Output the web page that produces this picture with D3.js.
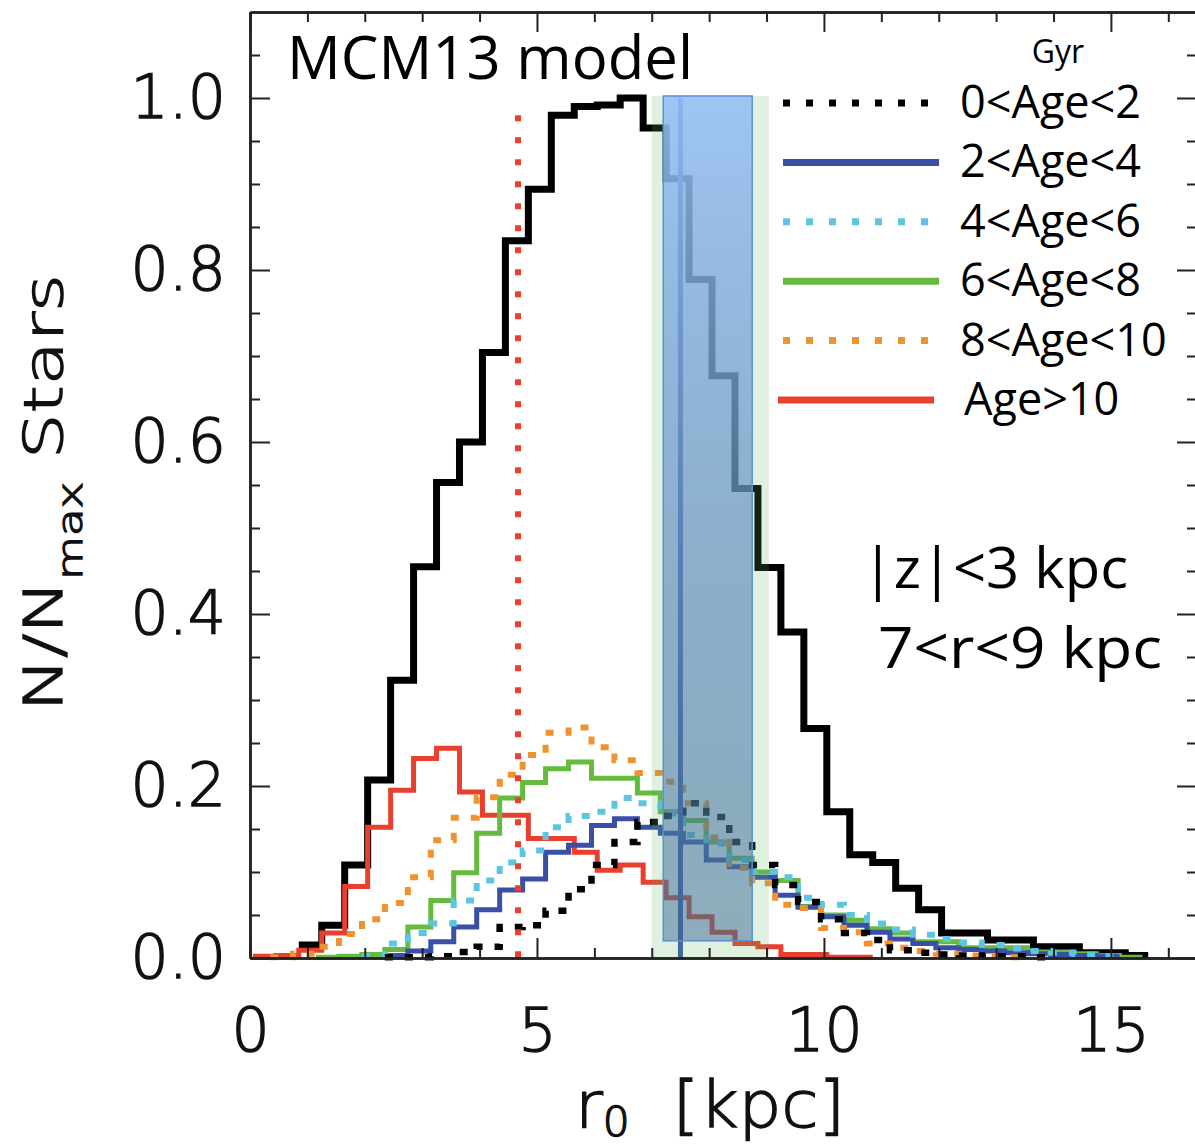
<!DOCTYPE html>
<html>
<head>
<meta charset="utf-8">
<script src="https://cdn.jsdelivr.net/npm/d3@7"></script>
<style>
  body { margin: 0; background: #fff; }
  svg { display: block; }
</style>
</head>
<body>
<div id="chart"></div>
<script>
const width = 1195;
const height = 1148;

// histogram bins are 0.4 kpc wide; each series gives the left edge of its first bin
const binWidth = 0.4;

// all stars (black, thick solid)
const allStart = 0.85;
const allStars = [0.015, 0.038, 0.108, 0.207, 0.323, 0.455, 0.553, 0.6, 0.704, 0.834, 0.894, 0.98, 0.99, 0.992, 1.0,
	0.965, 0.906, 0.789, 0.677, 0.546, 0.454, 0.379, 0.267, 0.17, 0.12, 0.111, 0.081, 0.056, 0.029, 0.029, 0.021, 0.021,
	0.013, 0.013, 0.006, 0.006, 0.003];

// age groups (Gyr)
const age0to2Start = 2.35;
const age0to2 = [0.001, 0.001, 0.002, 0.007, 0.013, 0.036, 0.038, 0.055, 0.08, 0.108, 0.135, 0.158, 0.165, 0.18, 0.164,
	0.135, 0.108, 0.085, 0.065, 0.045, 0.029, 0.021, 0.009, 0.006, 0.004, 0.003, 0.002, 0.002, 0.001];

const age2to4Start = 2.35;
const age2to4 = [0.003, 0.008, 0.019, 0.036, 0.056, 0.079, 0.092, 0.123, 0.131, 0.154, 0.162, 0.152, 0.145, 0.135,
	0.114, 0.106, 0.094, 0.073, 0.059, 0.048, 0.038, 0.03, 0.022, 0.017, 0.012, 0.01, 0.008, 0.006, 0.005, 0.004, 0.003,
	0.002];

const age4to6Start = 1.95;
const age4to6 = [0.002, 0.017, 0.029, 0.04, 0.067, 0.09, 0.111, 0.125, 0.152, 0.165, 0.17, 0.186, 0.18, 0.168, 0.143,
	0.133, 0.114, 0.1, 0.094, 0.07, 0.062, 0.05, 0.04, 0.033, 0.027, 0.022, 0.018, 0.015, 0.011, 0.008, 0.006, 0.004,
	0.002];

const age6to8Start = 1.15;
const age6to8 = [0.001, 0.002, 0.004, 0.01, 0.036, 0.067, 0.099, 0.145, 0.186, 0.204, 0.22, 0.228, 0.209, 0.209, 0.192,
	0.17, 0.16, 0.135, 0.116, 0.1, 0.09, 0.06, 0.05, 0.044, 0.034, 0.029, 0.019, 0.019, 0.012, 0.012, 0.012, 0.007, 0.007,
	0.005, 0.003, 0.001];

const age8to10Start = 0.35;
const age8to10 = [0.001, 0.005, 0.013, 0.028, 0.045, 0.064, 0.094, 0.137, 0.163, 0.187, 0.213, 0.236, 0.262, 0.268,
	0.245, 0.23, 0.215, 0.205, 0.18, 0.14, 0.105, 0.087, 0.062, 0.058, 0.035, 0.03, 0.017, 0.012, 0.008, 0.005, 0.003,
	0.002, 0.001];

const ageOver10Start = 0.05;
const ageOver10 = [0.002, 0.003, 0.009, 0.029, 0.083, 0.152, 0.195, 0.232, 0.244, 0.193, 0.166, 0.166, 0.139, 0.139,
	0.123, 0.102, 0.108, 0.088, 0.07, 0.048, 0.03, 0.017, 0.013, 0.004, 0.004, 0.001, 0.001];

// legend
const legendLabels = ['0<Age<2', '2<Age<4', '4<Age<6', '6<Age<8', '8<Age<10', 'Age>10'];
const legendColors = ['#000000', '#3a4fa6', '#5cc6e0', '#66bb3f', '#f0922e', '#e8402f'];
const legendDotted = [true, false, true, false, true, false];

// marked regions (kpc)
const sunBand = [7.0, 9.04];
const boxRange = [7.2, 8.75];
const boxHeight = [0.02, 1.0];
const sunLine = 7.5;
const redLine = 4.67;

// axis ticks
const xMajor = [0, 5, 10, 15];
const yMajor = [0, 0.2, 0.4, 0.6, 0.8, 1.0];

const svg = d3.select('#chart').append('svg').attr('width', width).attr('height', height);

const x = d3.scaleLinear().domain([0, 16.5]).range([250, 1197]);
const y = d3.scaleLinear().domain([0, 1.1]).range([958, 12]);

const line = d3
	.line()
	.x((d) => x(d[0]))
	.y((d) => y(d[1]))
	.curve(d3.curveStepAfter);

function binPoints(start, values) {
	const pts = values.map((v, i) => [start + i * binWidth, v]);
	pts.push([start + values.length * binWidth, values[values.length - 1]]);
	return pts;
}

// HISTOGRAMS =================================================================
const series = [
	{ start: allStart, values: allStars, color: '#000', w: 7, dotted: false },
	{ start: ageOver10Start, values: ageOver10, color: legendColors[5], w: 5, dotted: false },
	{ start: age6to8Start, values: age6to8, color: legendColors[3], w: 5, dotted: false },
	{ start: age2to4Start, values: age2to4, color: legendColors[1], w: 5, dotted: false },
	{ start: age8to10Start, values: age8to10, color: legendColors[4], w: 6, dotted: true },
	{ start: age4to6Start, values: age4to6, color: legendColors[2], w: 6, dotted: true },
	{ start: age0to2Start, values: age0to2, color: legendColors[0], w: 6.5, dotted: true },
];

svg.append('g')
	.selectAll('path')
	.data(series)
	.join('path')
	.attr('d', (d) => line(binPoints(d.start, d.values)))
	.attr('fill', 'none')
	.attr('stroke', (d) => d.color)
	.attr('stroke-width', (d) => d.w)
	.attr('stroke-dasharray', (d) => (d.dotted ? '8,12' : null));

// red dotted marker
svg.append('line')
	.attr('x1', x(redLine))
	.attr('x2', x(redLine))
	.attr('y1', y(0.98))
	.attr('y2', y(0))
	.attr('stroke', '#e8402f')
	.attr('stroke-width', 6)
	.attr('stroke-dasharray', '6,16');

// blue vertical line (under the box)
svg.append('line')
	.attr('x1', x(sunLine))
	.attr('x2', x(sunLine))
	.attr('y1', y(1.0))
	.attr('y2', y(0))
	.attr('stroke', '#3a55b0')
	.attr('stroke-width', 5);

// green band
svg.append('rect')
	.attr('x', x(sunBand[0]))
	.attr('y', y(1.0) - 2)
	.attr('width', x(sunBand[1]) - x(sunBand[0]))
	.attr('height', y(0) - y(1.0) + 2)
	.attr('fill', 'rgb(95,180,90)')
	.attr('fill-opacity', 0.2);

// blue box with gradient
const grad = svg.append('defs').append('linearGradient').attr('id', 'boxGrad').attr('x1', 0).attr('x2', 0).attr('y1', 0).attr('y2', 1);
grad.append('stop').attr('offset', '0%').attr('stop-color', 'rgb(150,192,246)').attr('stop-opacity', 0.88);
grad.append('stop').attr('offset', '100%').attr('stop-color', 'rgb(55,100,150)').attr('stop-opacity', 0.48);

svg.append('rect')
	.attr('x', x(boxRange[0]))
	.attr('y', y(boxHeight[1]) - 2)
	.attr('width', x(boxRange[1]) - x(boxRange[0]))
	.attr('height', y(boxHeight[0]) - y(boxHeight[1]) + 2)
	.attr('fill', 'url(#boxGrad)')
	.attr('stroke', '#5b8fd6')
	.attr('stroke-width', 1.5);

// AXES =================================================================
const axisFont = '"DejaVu Sans", sans-serif';

// thin font thickened a little with a stroke
function thinText(sel) {
	sel.style('font-family', axisFont)
		.style('font-weight', 200)
		.attr('fill', '#111')
		.attr('stroke', '#111')
		.attr('stroke-width', 1.4);
}

function styleAxis(g) {
	g.selectAll('.domain').attr('stroke', '#222').attr('stroke-width', 2.5);
	g.selectAll('.tick line').attr('stroke', '#222').attr('stroke-width', 2);
	g.selectAll('.tick text').call(thinText).style('font-size', '60px');
}

const xMinor = d3.range(0, 16.5, 1).filter((v) => v % 5 !== 0);
const yMinor = d3.range(0, 1.1, 0.05).filter((v) => Math.abs(v * 5 - Math.round(v * 5)) > 1e-6);

// bottom
svg.append('g')
	.attr('transform', 'translate(0,958)')
	.call(d3.axisBottom(x).tickValues(xMajor).tickSizeInner(-20).tickSizeOuter(0).tickPadding(50).tickFormat(d3.format('d')))
	.call(styleAxis);
svg.append('g')
	.attr('transform', 'translate(0,958)')
	.call(d3.axisBottom(x).tickValues(xMinor).tickSizeInner(-10).tickSizeOuter(0).tickFormat(''))
	.call(styleAxis);
// top
svg.append('g')
	.attr('transform', 'translate(0,12)')
	.call(d3.axisTop(x).tickValues(xMajor).tickSizeInner(-20).tickSizeOuter(0).tickFormat(''))
	.call(styleAxis);
svg.append('g')
	.attr('transform', 'translate(0,12)')
	.call(d3.axisTop(x).tickValues(xMinor).tickSizeInner(-10).tickSizeOuter(0).tickFormat(''))
	.call(styleAxis);
// left
svg.append('g')
	.attr('transform', 'translate(250,0)')
	.call(d3.axisLeft(y).tickValues(yMajor).tickSizeInner(-20).tickSizeOuter(0).tickPadding(24).tickFormat(d3.format('.1f')))
	.call(styleAxis);
svg.append('g')
	.attr('transform', 'translate(250,0)')
	.call(d3.axisLeft(y).tickValues(yMinor).tickSizeInner(-10).tickSizeOuter(0).tickFormat(''))
	.call(styleAxis);
// right
svg.append('g')
	.attr('transform', 'translate(1197,0)')
	.call(d3.axisRight(y).tickValues(yMajor).tickSizeInner(-20).tickSizeOuter(0).tickFormat(''))
	.call(styleAxis);
svg.append('g')
	.attr('transform', 'translate(1197,0)')
	.call(d3.axisRight(y).tickValues(yMinor).tickSizeInner(-10).tickSizeOuter(0).tickFormat(''))
	.call(styleAxis);

// axis titles
const xTitle = svg
	.append('text')
	.attr('x', 575)
	.attr('y', 1127)
	.attr('textLength', 270)
	.attr('lengthAdjust', 'spacingAndGlyphs')
	.call(thinText)
	.style('font-size', '64px');
xTitle.append('tspan').text('r');
xTitle.append('tspan').attr('dy', 9).style('font-size', '40px').text('0');
xTitle.append('tspan').attr('dy', -9).text('\u00a0\u00a0[kpc]');

const yTitle = svg
	.append('text')
	.attr('transform', 'translate(62,493) rotate(-90)')
	.attr('text-anchor', 'middle')
	.attr('textLength', 437)
	.attr('lengthAdjust', 'spacingAndGlyphs')
	.call(thinText)
	.style('font-size', '54px');
yTitle.append('tspan').text('N/N');
yTitle.append('tspan').attr('dy', 20).style('font-size', '34px').text('max');
yTitle.append('tspan').attr('dy', -20).text('\u00a0Stars');

// ANNOTATIONS =================================================================
const annoFont = '"Open Sans", "Noto Sans", sans-serif';

svg.append('text')
	.attr('x', 287)
	.attr('y', 79)
	.attr('textLength', 406)
	.attr('lengthAdjust', 'spacingAndGlyphs')
	.style('font-family', annoFont)
	.style('font-size', '60px')
	.attr('fill', '#000')
	.text('MCM13 model');

svg.append('text')
	.attr('x', 862)
	.attr('y', 588)
	.attr('textLength', 266)
	.attr('lengthAdjust', 'spacingAndGlyphs')
	.style('font-family', annoFont)
	.style('font-size', '56px')
	.attr('fill', '#000')
	.text('|z|<3 kpc');

svg.append('text')
	.attr('x', 878)
	.attr('y', 668)
	.attr('textLength', 284)
	.attr('lengthAdjust', 'spacingAndGlyphs')
	.style('font-family', annoFont)
	.style('font-size', '56px')
	.attr('fill', '#000')
	.text('7<r<9 kpc');

// LEGEND =================================================================
svg.append('text')
	.attr('x', 1058)
	.attr('y', 63)
	.attr('text-anchor', 'middle')
	.style('font-family', annoFont)
	.style('font-size', '32px')
	.attr('fill', '#000')
	.text('Gyr');

const legendY = d3.scalePoint().domain(legendLabels).range([103, 400]);

const legend = svg
	.append('g')
	.selectAll('g')
	.data(legendLabels)
	.join('g')
	.attr('transform', (d) => `translate(0,${legendY(d)})`);

legend
	.append('line')
	.attr('x1', (d, i) => (i === 5 ? 778 : 783))
	.attr('x2', (d, i) => (i === 5 ? 934 : 939))
	.attr('stroke', (d, i) => legendColors[i])
	.attr('stroke-width', 7)
	.attr('stroke-dasharray', (d, i) => (legendDotted[i] ? '7,16' : null));

legend
	.append('text')
	.attr('x', (d, i) => (i === 5 ? 964 : 960))
	.attr('y', 15)
	.style('font-family', annoFont)
	.style('font-size', '45px')
	.attr('fill', '#000')
	.text((d) => d);
</script>
</body>
</html>
